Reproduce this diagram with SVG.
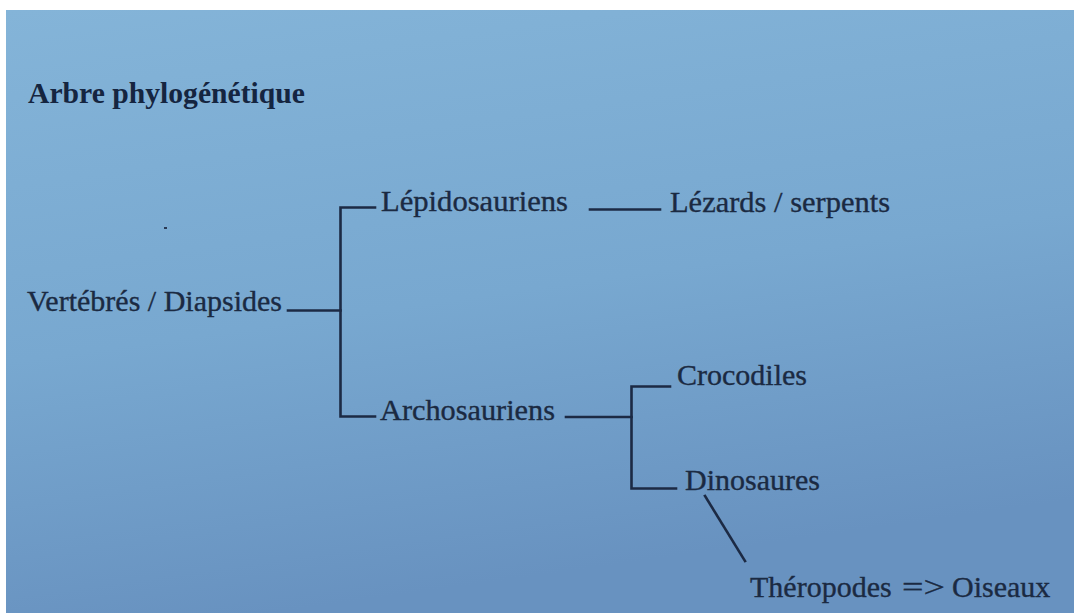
<svg xmlns="http://www.w3.org/2000/svg" width="1074" height="613" viewBox="0 0 1074 613">
  <defs>
    <linearGradient id="paper" x1="0" y1="0" x2="0.25" y2="1">
      <stop offset="0" stop-color="#84b4d8"/>
      <stop offset="0.55" stop-color="#78a8d0"/>
      <stop offset="1" stop-color="#6892c0"/>
    </linearGradient>
    <style>
      .t { font-family: "Liberation Serif", "Times New Roman", serif; font-size: 30px; fill: #1b2a42; stroke: #1b2a42; stroke-width: 0.35; }
      .title { font-family: "Liberation Serif", "Times New Roman", serif; font-size: 29px; font-weight: bold; fill: #152540; }
      .ln { stroke: #1c2a44; stroke-width: 2.6; fill: none; stroke-linecap: square; }
    </style>
  </defs>
  <rect x="0" y="0" width="1074" height="613" fill="#ffffff"/>
  <rect x="6" y="10" width="1068" height="603" fill="url(#paper)"/>
  <rect x="164" y="227" width="3" height="2" fill="#2a3a55"/>

  <g id="title"><text class="title" x="28" y="103" textLength="277" lengthAdjust="spacingAndGlyphs">Arbre phylogénétique</text></g>

  <g id="connectors">
    <path class="ln" d="M288 310.5 H340.5"/>
    <path class="ln" d="M375 207.5 H340.5 V416.5 H375"/>
    <path class="ln" d="M590 209.5 H660"/>
    <path class="ln" d="M566 417 H631.5"/>
    <path class="ln" d="M670 386.5 H631.5 V488.5 H676"/>
    <path class="ln" d="M705 496 L745 561"/>
  </g>

  <g id="node-vertebres"><text class="t" x="27" y="311" textLength="255" lengthAdjust="spacingAndGlyphs">Vertébrés / Diapsides</text></g>
  <g id="node-lepidosauriens"><text class="t" x="381" y="211" textLength="187" lengthAdjust="spacingAndGlyphs">Lépidosauriens</text></g>
  <g id="node-lezards"><text class="t" x="670" y="212" textLength="220" lengthAdjust="spacingAndGlyphs">Lézards / serpents</text></g>
  <g id="node-archosauriens"><text class="t" x="380" y="420" textLength="175" lengthAdjust="spacingAndGlyphs">Archosauriens</text></g>
  <g id="node-crocodiles"><text class="t" x="677" y="385">Crocodiles</text></g>
  <g id="node-dinosaures"><text class="t" x="685" y="490">Dinosaures</text></g>
  <g id="node-theropodes"><text class="t" x="750" y="597">Théropodes <tspan x="902" textLength="43" lengthAdjust="spacingAndGlyphs">=&gt;</tspan> <tspan x="952">Oiseaux</tspan></text></g>
</svg>
